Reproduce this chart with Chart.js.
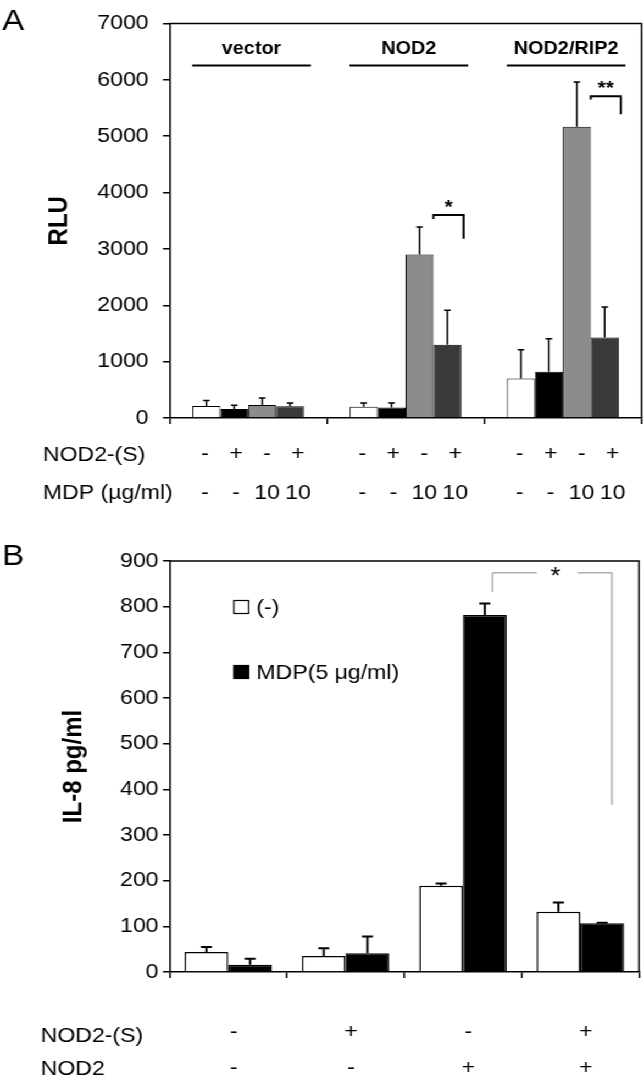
<!DOCTYPE html>
<html><head><meta charset="utf-8">
<script src="https://cdn.jsdelivr.net/npm/chart.js@4.4.1/dist/chart.umd.min.js"></script>
<style>
html,body{margin:0;padding:0;background:#fff;overflow:hidden}
#wrap{position:absolute;left:0;top:0;width:586px;height:1075px;transform:scaleX(1.099);transform-origin:0 0}
#ca{position:absolute;left:0;top:0}
#cb{position:absolute;left:0;top:530px}
</style></head><body>
<div id="wrap"><canvas id="ca" width="586" height="520"></canvas><canvas id="cb" width="586" height="545"></canvas></div>
<script>
// ---------- Panel A data ----------
const groupsA = ['vector', 'NOD2', 'NOD2/RIP2'];
const valsA_white = [215, 200, 700];
const errA_white  = [95, 65, 510];
const valsA_black = [160, 185, 820];
const errA_black  = [65, 80, 585];
const valsA_gray  = [230, 2900, 5170];
const errA_gray   = [125, 490, 790];
const valsA_dark  = [210, 1300, 1430];
const errA_dark   = [55, 610, 540];
const rowLabelsA = ['NOD2-(S)', 'MDP (µg/ml)'];
const rowA_nod2s = ['-', '+', '-', '+'];
const rowA_mdp   = ['-', '-', '10', '10'];
const yTicksA = {min: 0, max: 7000, step: 1000};
// significance brackets: group index, bracket top, left leg end, right leg end
const sigA_group = [1, 2];
const sigA_top   = [3600, 5710];
const sigA_left  = [3530, 5650];
const sigA_right = [3180, 5390];
const sigA_label = ['*', '**'];

// ---------- Panel B data ----------
const groupsB = ['1', '2', '3', '4'];
const valsB_none = [44, 35, 189, 132];
const errB_none  = [11, 17, 5, 20];
const valsB_mdp  = [16, 41, 782, 107];
const errB_mdp   = [13, 37, 25, 1];
const legendB = ['(-)', 'MDP(5 \u03bcg/ml)'];
const rowLabelsB = ['NOD2-(S)', 'NOD2'];
const rowB_nod2s = ['-', '+', '-', '+'];
const rowB_nod2  = ['-', '-', '+', '+'];
const yTicksB = {min: 0, max: 900, step: 100};
const sigB = {from: 2, to: 3, top: 874, leftEnd: 832, rightEnd: 366, label: '*'};

const FONT = '"Liberation Sans", Arial, Helvetica, sans-serif';

function errPlugin(errs, capHalf, lw) {
  return {
    id: 'errbars',
    afterDatasetsDraw(chart) {
      const ctx = chart.ctx, y = chart.scales.y;
      ctx.save();
      ctx.strokeStyle = '#000';
      ctx.lineWidth = lw;
      chart.data.datasets.forEach((ds, i) => {
        chart.getDatasetMeta(i).data.forEach((bar, j) => {
          const top = y.getPixelForValue(ds.data[j] + errs[i][j]);
          ctx.beginPath();
          ctx.moveTo(bar.x, bar.y);
          ctx.lineTo(bar.x, top);
          ctx.moveTo(bar.x - capHalf, top);
          ctx.lineTo(bar.x + capHalf, top);
          ctx.stroke();
        });
      });
      ctx.restore();
    }
  };
}

function frame(ctx, ca) {
  ctx.save();
  ctx.strokeStyle = '#000';
  ctx.lineWidth = 1.5;
  ctx.beginPath();
  ctx.moveTo(ca.left, ca.top);
  ctx.lineTo(ca.right, ca.top);
  ctx.lineTo(ca.right, ca.bottom);
  ctx.stroke();
  ctx.restore();
}

const decoA = {
  id: 'decoA',
  afterDraw(chart) {
    const ctx = chart.ctx, ca = chart.chartArea, x = chart.scales.x, y = chart.scales.y;
    frame(ctx, ca);
    ctx.save();
    ctx.fillStyle = '#000';
    ctx.strokeStyle = '#000';
    // panel letter
    ctx.font = '30px ' + FONT;
    ctx.textAlign = 'left';
    ctx.textBaseline = 'alphabetic';
    ctx.fillText('A', 2, 30);
    // group headers
    ctx.font = 'bold 18px ' + FONT;
    ctx.textAlign = 'center';
    ctx.textBaseline = 'middle';
    ctx.lineWidth = 2;
    groupsA.forEach((g, i) => {
      const cx = x.getPixelForValue(i) + 3;
      ctx.fillText(g, cx, ca.top + 26);
      ctx.beginPath();
      ctx.moveTo(cx - 54, ca.top + 42);
      ctx.lineTo(cx + 54, ca.top + 42);
      ctx.stroke();
    });
    // rows below
    ctx.font = '21px ' + FONT;
    ctx.textAlign = 'left';
    ctx.fillText(rowLabelsA[0], 39, ca.bottom + 37);
    ctx.fillText(rowLabelsA[1], 39, ca.bottom + 75);
    ctx.textAlign = 'center';
    groupsA.forEach((g, i) => {
      const m0 = chart.getDatasetMeta(0).data[i], m3 = chart.getDatasetMeta(3).data[i];
      const gc = (m0.x + m3.x) / 2 + 3;
      const step = (m3.x - m0.x) / 3 * 1.11;
      for (let k = 0; k < 4; k++) {
        const sx = gc + (k - 1.5) * step;
        ctx.fillText(rowA_nod2s[k], sx, ca.bottom + 36);
        ctx.fillText(rowA_mdp[k], sx, ca.bottom + 75);
      }
    });
    // brackets
    ctx.lineWidth = 2;
    sigA_group.forEach((gi, s) => {
      const bar = chart.getDatasetMeta(3).data[gi];
      const x1 = bar.x - bar.width / 2, x2 = bar.x + bar.width / 2 + 2;
      const yt = y.getPixelForValue(sigA_top[s]);
      ctx.beginPath();
      ctx.moveTo(x1, y.getPixelForValue(sigA_left[s]));
      ctx.lineTo(x1, yt);
      ctx.lineTo(x2, yt);
      ctx.lineTo(x2, y.getPixelForValue(sigA_right[s]));
      ctx.stroke();
      ctx.font = 'bold 19px ' + FONT;
      ctx.textAlign = 'center';
      ctx.textBaseline = 'middle';
      ctx.fillText(sigA_label[s], (x1 + x2) / 2, yt - 7);
    });
    ctx.restore();
  }
};

const decoB = {
  id: 'decoB',
  afterDraw(chart) {
    const ctx = chart.ctx, ca = chart.chartArea, x = chart.scales.x, y = chart.scales.y;
    frame(ctx, ca);
    ctx.save();
    ctx.fillStyle = '#000';
    ctx.strokeStyle = '#000';
    ctx.font = '30px ' + FONT;
    ctx.textAlign = 'left';
    ctx.textBaseline = 'alphabetic';
    ctx.fillText('B', 2, 35);
    // legend
    const colors = ['#ffffff', '#000000'];
    ctx.font = '21px ' + FONT;
    ctx.textBaseline = 'middle';
    ctx.lineWidth = 1.2;
    legendB.forEach((t, i) => {
      const cy = ca.top + 46 + i * 65;
      const bx = ca.left + 58.5;
      ctx.fillStyle = colors[i];
      ctx.fillRect(bx, cy - 6.5, 13.5, 13);
      ctx.strokeRect(bx, cy - 6.5, 13.5, 13);
      ctx.fillStyle = '#000';
      ctx.fillText(t, bx + 20.5, cy + 1);
    });
    // rows
    ctx.textAlign = 'left';
    ctx.fillText(rowLabelsB[0], 37, ca.bottom + 64);
    ctx.fillText(rowLabelsB[1], 37, ca.bottom + 97);
    ctx.textAlign = 'center';
    groupsB.forEach((g, i) => {
      const cx = x.getPixelForValue(i) + 5;
      ctx.fillText(rowB_nod2s[i], cx, ca.bottom + 60);
      ctx.fillText(rowB_nod2[i], cx, ca.bottom + 96);
    });
    // significance bracket
    const m = chart.getDatasetMeta(1);
    const x1 = m.data[sigB.from].x + 7, x2 = m.data[sigB.to].x + 9;
    const yt = y.getPixelForValue(sigB.top);
    const sx = (x1 + x2) / 2 + 3;
    ctx.strokeStyle = '#888';
    ctx.lineWidth = 1;
    ctx.beginPath();
    ctx.moveTo(x1, y.getPixelForValue(sigB.leftEnd));
    ctx.lineTo(x1, yt);
    ctx.lineTo(sx - 17, yt);
    ctx.moveTo(sx + 20, yt);
    ctx.lineTo(x2, yt);
    ctx.lineTo(x2, y.getPixelForValue(sigB.rightEnd));
    ctx.stroke();
    ctx.fillStyle = '#000';
    ctx.font = '24px ' + FONT;
    ctx.textBaseline = 'middle';
    ctx.fillText(sigB.label, sx, yt + 5);
    ctx.restore();
  }
};

function scalesFor(t, yW, xH, title, titlePad, tickPad) {
  return {
    x: {
      type: 'category',
      offset: true,
      ticks: {display: false},
      grid: {display: true, drawOnChartArea: false, drawTicks: true, tickLength: 6, offset: true, color: '#000', lineWidth: 1.5},
      border: {display: true, color: '#000', width: 1.5},
      afterFit(s) { s.height = xH; }
    },
    y: {
      min: t.min, max: t.max,
      ticks: {stepSize: t.step, color: '#000', padding: tickPad, font: {family: FONT, size: 21, lineHeight: 1.0}, callback: v => String(v)},
      grid: {display: true, drawOnChartArea: false, drawTicks: true, tickLength: 6, color: '#000', lineWidth: 1.5},
      border: {display: true, color: '#000', width: 1.5},
      title: {display: true, text: title, color: '#000', font: {family: FONT, size: 24, weight: 'bold'}, padding: {top: titlePad, bottom: 0}},
      afterFit(s) { s.width = yW; }
    }
  };
}

const common = {
  responsive: false,
  animation: false,
  devicePixelRatio: 1,
  events: [],
  plugins: {legend: {display: false}, tooltip: {enabled: false}}
};

new Chart(document.getElementById('ca'), {
  type: 'bar',
  data: {
    labels: groupsA,
    datasets: [
      {data: valsA_white, backgroundColor: '#ffffff'},
      {data: valsA_black, backgroundColor: '#000000'},
      {data: valsA_gray,  backgroundColor: '#8c8c8c'},
      {data: valsA_dark,  backgroundColor: '#3a3a3a'}
    ].map(d => Object.assign(d, {borderColor: '#000', borderWidth: 1, categoryPercentage: 0.71, barPercentage: 1}))
  },
  options: Object.assign({}, common, {
    layout: {padding: {top: 11, right: 2.3, left: 0, bottom: 0}},
    scales: scalesFor(yTicksA, 154.3, 102, 'RLU', 40, 13)
  }),
  plugins: [errPlugin([errA_white, errA_black, errA_gray, errA_dark], 3, 1.5), decoA]
});

new Chart(document.getElementById('cb'), {
  type: 'bar',
  data: {
    labels: groupsB,
    datasets: [
      {data: valsB_none, backgroundColor: '#ffffff'},
      {data: valsB_mdp,  backgroundColor: '#000000'}
    ].map(d => Object.assign(d, {borderColor: '#000', borderWidth: 1.5, categoryPercentage: 0.745, barPercentage: 1}))
  },
  options: Object.assign({}, common, {
    layout: {padding: {top: 31, right: 4.6, left: 0, bottom: 0}},
    scales: scalesFor(yTicksB, 154.3, 103, 'IL-8 pg/ml', 53, 4)
  }),
  plugins: [errPlugin([errB_none, errB_mdp], 5, 2), decoB]
});
</script>
</body></html>
